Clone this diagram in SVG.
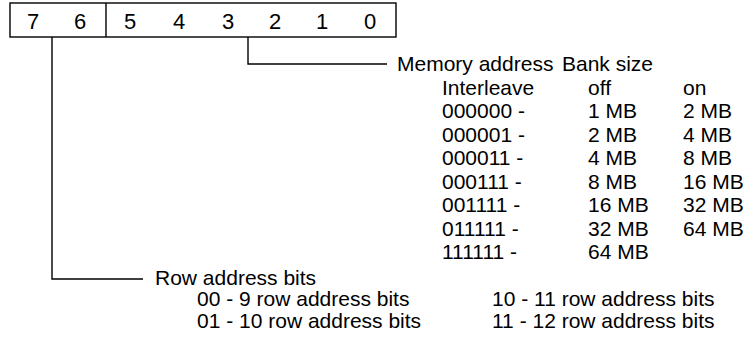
<svg xmlns="http://www.w3.org/2000/svg" width="746" height="341" viewBox="0 0 746 341">
<style>
text{font-family:"Liberation Sans",Arial,sans-serif;font-size:21px;fill:#000}
.d{font-size:22px;text-anchor:middle}
.ln{fill:none;stroke:#000;stroke-width:1.4}
</style>
<rect width="746" height="341" fill="#fff"/>
<g id="register">
<rect class="ln" x="10" y="3" width="386" height="34"/>
<line class="ln" x1="106" y1="3" x2="106" y2="37"/>
<text class="d" x="33" y="29">7</text>
<text class="d" x="80" y="29">6</text>
<text class="d" x="130" y="29">5</text>
<text class="d" x="179" y="29">4</text>
<text class="d" x="228" y="29">3</text>
<text class="d" x="275" y="29">2</text>
<text class="d" x="322" y="29">1</text>
<text class="d" x="370" y="29">0</text>
</g>
<g id="connectors">
<polyline class="ln" points="248,37 248,64 387,64"/>
<polyline class="ln" points="52,37 52,279 143,279"/>
</g>
<g id="memory">
<text x="397" y="71">Memory address</text><text x="562" y="71">Bank size</text>
<text x="442" y="95">Interleave</text><text x="588" y="95">off</text><text x="683" y="95">on</text>
<text x="442" y="118">000000 -</text><text x="588" y="118">1 MB</text><text x="683" y="118">2 MB</text>
<text x="442" y="142">000001 -</text><text x="588" y="142">2 MB</text><text x="683" y="142">4 MB</text>
<text x="442" y="165">000011 -</text><text x="588" y="165">4 MB</text><text x="683" y="165">8 MB</text>
<text x="442" y="189">000111 -</text><text x="588" y="189">8 MB</text><text x="683" y="189">16 MB</text>
<text x="442" y="212">001111 -</text><text x="588" y="212">16 MB</text><text x="683" y="212">32 MB</text>
<text x="442" y="236">011111 -</text><text x="588" y="236">32 MB</text><text x="683" y="236">64 MB</text>
<text x="442" y="259">111111 -</text><text x="588" y="259">64 MB</text>
</g>
<g id="row">
<text x="155" y="285">Row address bits</text>
<text x="197" y="306">00 - 9 row address bits</text>
<text x="197" y="328">01 - 10 row address bits</text>
<text x="492" y="306">10 - 11 row address bits</text>
<text x="492" y="328">11 - 12 row address bits</text>
</g>
</svg>
